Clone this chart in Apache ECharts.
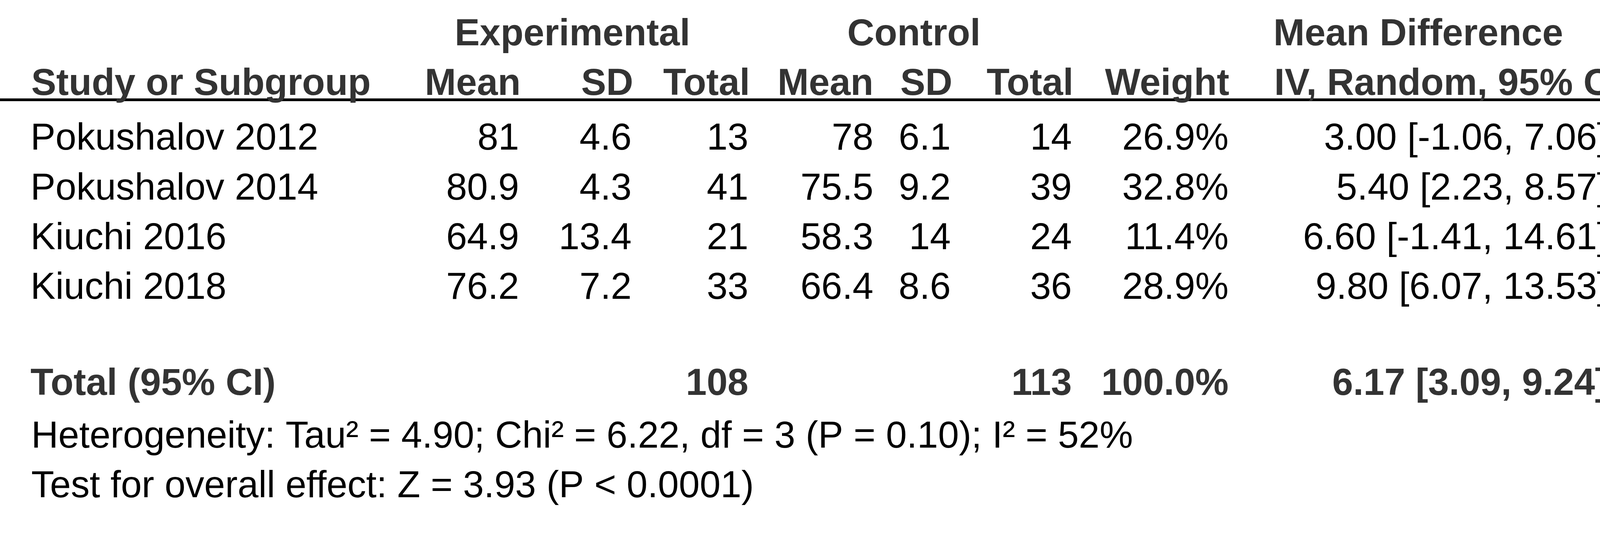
<!DOCTYPE html>
<html>
<head>
<meta charset="utf-8">
<script src="https://cdn.jsdelivr.net/npm/echarts@6.0.0/dist/echarts.min.js"></script>
<style>
  html, body { margin: 0; padding: 0; background: #fff; overflow: hidden; }
  #forest { width: 6938px; height: 1403px; }
</style>
</head>
<body>
<div id="forest"></div>
<script>
// ---- data ----
const studies = ['Pokushalov 2012', 'Pokushalov 2014', 'Kiuchi 2016', 'Kiuchi 2018']
const expMean = ['81', '80.9', '64.9', '76.2']
const expSD = ['4.6', '4.3', '13.4', '7.2']
const expTotal = [13, 41, 21, 33]
const ctrlMean = ['78', '75.5', '58.3', '66.4']
const ctrlSD = ['6.1', '9.2', '14', '8.6']
const ctrlTotal = [14, 39, 24, 36]
const weights = [26.9, 32.8, 11.4, 28.9]
const md = [3.00, 5.40, 6.60, 9.80]
const ciLow = [-1.06, 2.23, -1.41, 6.07]
const ciHigh = [7.06, 8.57, 14.61, 13.53]
const years = [2012, 2014, 2016, 2018]

const totalExp = 108
const totalCtrl = 113
const totalWeight = 100.0
const totalMd = 6.17
const totalLow = 3.09
const totalHigh = 9.24

const heterogeneity = 'Heterogeneity: Tau² = 4.90; Chi² = 6.22, df = 3 (P = 0.10); I² = 52%'
const overallEffect = 'Test for overall effect: Z = 3.93 (P < 0.0001)'
const favoursLeft = 'Favours [experimental]'
const favoursRight = 'Favours [control]'

const xMin = -100
const xMax = 100
const xInterval = 50

// ---- layout ----
const FONT = '"Liberation Sans", Arial, sans-serif'
const FS = 96
const HEAD = '#333'
const TOTAL_ROW = 5          // one blank row between studies and total
const TEXT_DY = 37           // text middle below the whisker line, px
const TOTAL_DY = -9          // total row text sits a little higher

// table columns (x anchors in px)
const col = {
    study: 78, expMean: 1329, expSD: 1617, expTotal: 1916,
    ctrlMean: 2236, ctrlSD: 2434, ctrlTotal: 2744,
    weight: 3145, ci: 4115, year: 4195,
}

const fmtCI = (m, lo, hi) => `${m.toFixed(2)} [${lo.toFixed(2)}, ${hi.toFixed(2)}]`

const cells = []
studies.forEach((name, i) => {
    cells.push({ x: col.study, row: i, text: name, align: 'left' })
    cells.push({ x: col.expMean, row: i, text: expMean[i], align: 'right' })
    cells.push({ x: col.expSD, row: i, text: expSD[i], align: 'right' })
    cells.push({ x: col.expTotal, row: i, text: String(expTotal[i]), align: 'right' })
    cells.push({ x: col.ctrlMean, row: i, text: ctrlMean[i], align: 'right' })
    cells.push({ x: col.ctrlSD, row: i, text: ctrlSD[i], align: 'right' })
    cells.push({ x: col.ctrlTotal, row: i, text: String(ctrlTotal[i]), align: 'right' })
    cells.push({ x: col.weight, row: i, text: weights[i].toFixed(1) + '%', align: 'right' })
    cells.push({ x: col.ci, row: i, text: fmtCI(md[i], ciLow[i], ciHigh[i]), align: 'right' })
    cells.push({ x: col.year, row: i, text: String(years[i]), align: 'left' })
})
cells.push({ x: col.study, row: TOTAL_ROW, text: 'Total (95% CI)', align: 'left', bold: true })
cells.push({ x: col.expTotal, row: TOTAL_ROW, text: String(totalExp), align: 'right', bold: true })
cells.push({ x: col.ctrlTotal, row: TOTAL_ROW, text: String(totalCtrl), align: 'right', bold: true })
cells.push({ x: col.weight, row: TOTAL_ROW, text: totalWeight.toFixed(1) + '%', align: 'right', bold: true })
cells.push({ x: col.ci, row: TOTAL_ROW, text: fmtCI(totalMd, totalLow, totalHigh), align: 'right', bold: true })

function label(text, x, baseline, opts) {
    opts = opts || {}
    return {
        type: 'text',
        x: x,
        y: baseline - 30,
        silent: true,
        style: {
            text: text,
            fill: opts.color || '#000',
            fontFamily: FONT,
            fontSize: FS,
            fontWeight: opts.bold ? 'bold' : 'normal',
            align: opts.align || 'left',
            verticalAlign: 'middle',
        },
    }
}

const headerBold = { bold: true, color: HEAD }
const graphics = [
    // header rule across the whole width
    {
        type: 'line', silent: true,
        shape: { x1: 0, y1: 255.5, x2: 6938, y2: 255.5 },
        style: { stroke: '#000', lineWidth: 7 },
    },
    label('Experimental', 1164, 120, headerBold),
    label('Control', 2169, 120, headerBold),
    label('Mean Difference', 3260, 120, headerBold),
    label('Mean Difference', 5668, 120, Object.assign({ align: 'center' }, headerBold)),
    label('Study or Subgroup', 80, 247, headerBold),
    label('Mean', col.expMean + 4, 247, Object.assign({ align: 'right' }, headerBold)),
    label('SD', col.expSD + 4, 247, Object.assign({ align: 'right' }, headerBold)),
    label('Total', col.expTotal + 4, 247, Object.assign({ align: 'right' }, headerBold)),
    label('Mean', col.ctrlMean, 247, Object.assign({ align: 'right' }, headerBold)),
    label('SD', col.ctrlSD + 4, 247, Object.assign({ align: 'right' }, headerBold)),
    label('Total', col.ctrlTotal + 4, 247, Object.assign({ align: 'right' }, headerBold)),
    label('Weight', col.weight + 2, 247, Object.assign({ align: 'right' }, headerBold)),
    label('IV, Random, 95% CI', 3262, 247, headerBold),
    label('Year', col.year + 3, 247, headerBold),
    label('IV, Random, 95% CI', 5672, 244, Object.assign({ align: 'center' }, headerBold)),
    label(heterogeneity, 80, 1150),
    label(overallEffect, 80, 1277),
    label(favoursLeft, 5608, 1332, { align: 'right', color: HEAD }),
    label(favoursRight, 5706, 1332, { color: HEAD }),
]

const chart = echarts.init(document.getElementById('forest'), null, { renderer: 'canvas' })

const yRange = { min: -0.5, max: 6 }

chart.setOption({
    backgroundColor: '#fff',
    animation: false,
    grid: [
        // forest plot
        { left: 4485, top: 256, width: 2366, height: 828, outerBoundsMode: 'none', containLabel: false },
        // table
        { left: 0, top: 256, width: 4450, height: 828, outerBoundsMode: 'none', containLabel: false },
    ],
    xAxis: [
        {
            gridIndex: 0, type: 'value', min: xMin, max: xMax, interval: xInterval,
            position: 'bottom',
            axisLine: { show: true, onZero: false, lineStyle: { color: '#000', width: 7 } },
            axisTick: { show: true, inside: false, length: 32, lineStyle: { color: '#000', width: 6 } },
            axisLabel: {
                show: true, margin: 54, color: '#000', fontFamily: FONT, fontSize: FS,
                alignMinLabel: 'left', alignMaxLabel: 'right',
            },
            splitLine: { show: false },
        },
        {
            // ticks that stick up above the axis line
            gridIndex: 0, type: 'value', min: xMin, max: xMax, interval: xInterval,
            position: 'bottom',
            axisLine: { show: false, onZero: false },
            axisTick: { show: true, inside: true, length: 32, lineStyle: { color: '#000', width: 6 } },
            axisLabel: { show: false },
            splitLine: { show: false },
        },
        {
            gridIndex: 1, type: 'value', min: 0, max: 4450, show: false,
            axisLine: { onZero: false },
        },
    ],
    yAxis: [
        { gridIndex: 0, type: 'value', min: yRange.min, max: yRange.max, inverse: true, show: false },
        { gridIndex: 1, type: 'value', min: yRange.min, max: yRange.max, inverse: true, show: false },
    ],
    graphic: graphics,
    series: [
        {
            // confidence interval whiskers
            type: 'custom',
            xAxisIndex: 0, yAxisIndex: 0,
            z: 2,
            encode: { x: [0, 1], y: 2 },
            data: studies.map((s, i) => [ciLow[i], ciHigh[i], i]),
            renderItem: (params, api) => {
                const a = api.coord([api.value(0), api.value(2)])
                const b = api.coord([api.value(1), api.value(2)])
                return {
                    type: 'line',
                    shape: { x1: a[0], y1: a[1], x2: b[0], y2: b[1] },
                    style: { stroke: '#000', lineWidth: 6 },
                }
            },
        },
        {
            // point estimates, square size follows the weight
            type: 'scatter',
            xAxisIndex: 0, yAxisIndex: 0,
            z: 3,
            symbol: 'rect',
            symbolOffset: [0, 8],
            symbolSize: val => 15.1 + 1.308 * val[2],
            itemStyle: { color: '#00c000', opacity: 1 },
            data: studies.map((s, i) => [md[i], i, weights[i]]),
            markLine: {
                silent: true,
                symbol: 'none',
                label: { show: false },
                lineStyle: { color: '#333', width: 7, type: 'solid' },
                data: [{ xAxis: 0 }],
                z: 4,
            },
        },
        {
            // pooled estimate diamond
            type: 'custom',
            xAxisIndex: 0, yAxisIndex: 0,
            z: 3,
            encode: { x: [0, 1, 2], y: 3 },
            data: [[totalLow, totalMd, totalHigh, TOTAL_ROW]],
            renderItem: (params, api) => {
                const lo = api.coord([api.value(0), api.value(3)])
                const mid = api.coord([api.value(1), api.value(3)])
                const hi = api.coord([api.value(2), api.value(3)])
                const h = 55
                return {
                    type: 'polygon',
                    shape: { points: [[lo[0], lo[1]], [mid[0], mid[1] - h], [hi[0], hi[1]], [mid[0], mid[1] + h]] },
                    style: { fill: '#000' },
                }
            },
        },
        {
            // table cells
            type: 'custom',
            xAxisIndex: 2, yAxisIndex: 1,
            z: 5,
            data: cells.map(c => [c.x, c.row]),
            renderItem: (params, api) => {
                const c = cells[params.dataIndex]
                const p = api.coord([api.value(0), api.value(1)])
                return {
                    type: 'text',
                    x: p[0],
                    y: p[1] + TEXT_DY + (c.bold ? TOTAL_DY : 0),
                    style: {
                        text: c.text,
                        fill: c.bold ? HEAD : '#000',
                        fontFamily: FONT,
                        fontSize: FS,
                        fontWeight: c.bold ? 'bold' : 'normal',
                        align: c.align,
                        verticalAlign: 'middle',
                    },
                }
            },
        },
    ],
})
</script>
</body>
</html>
